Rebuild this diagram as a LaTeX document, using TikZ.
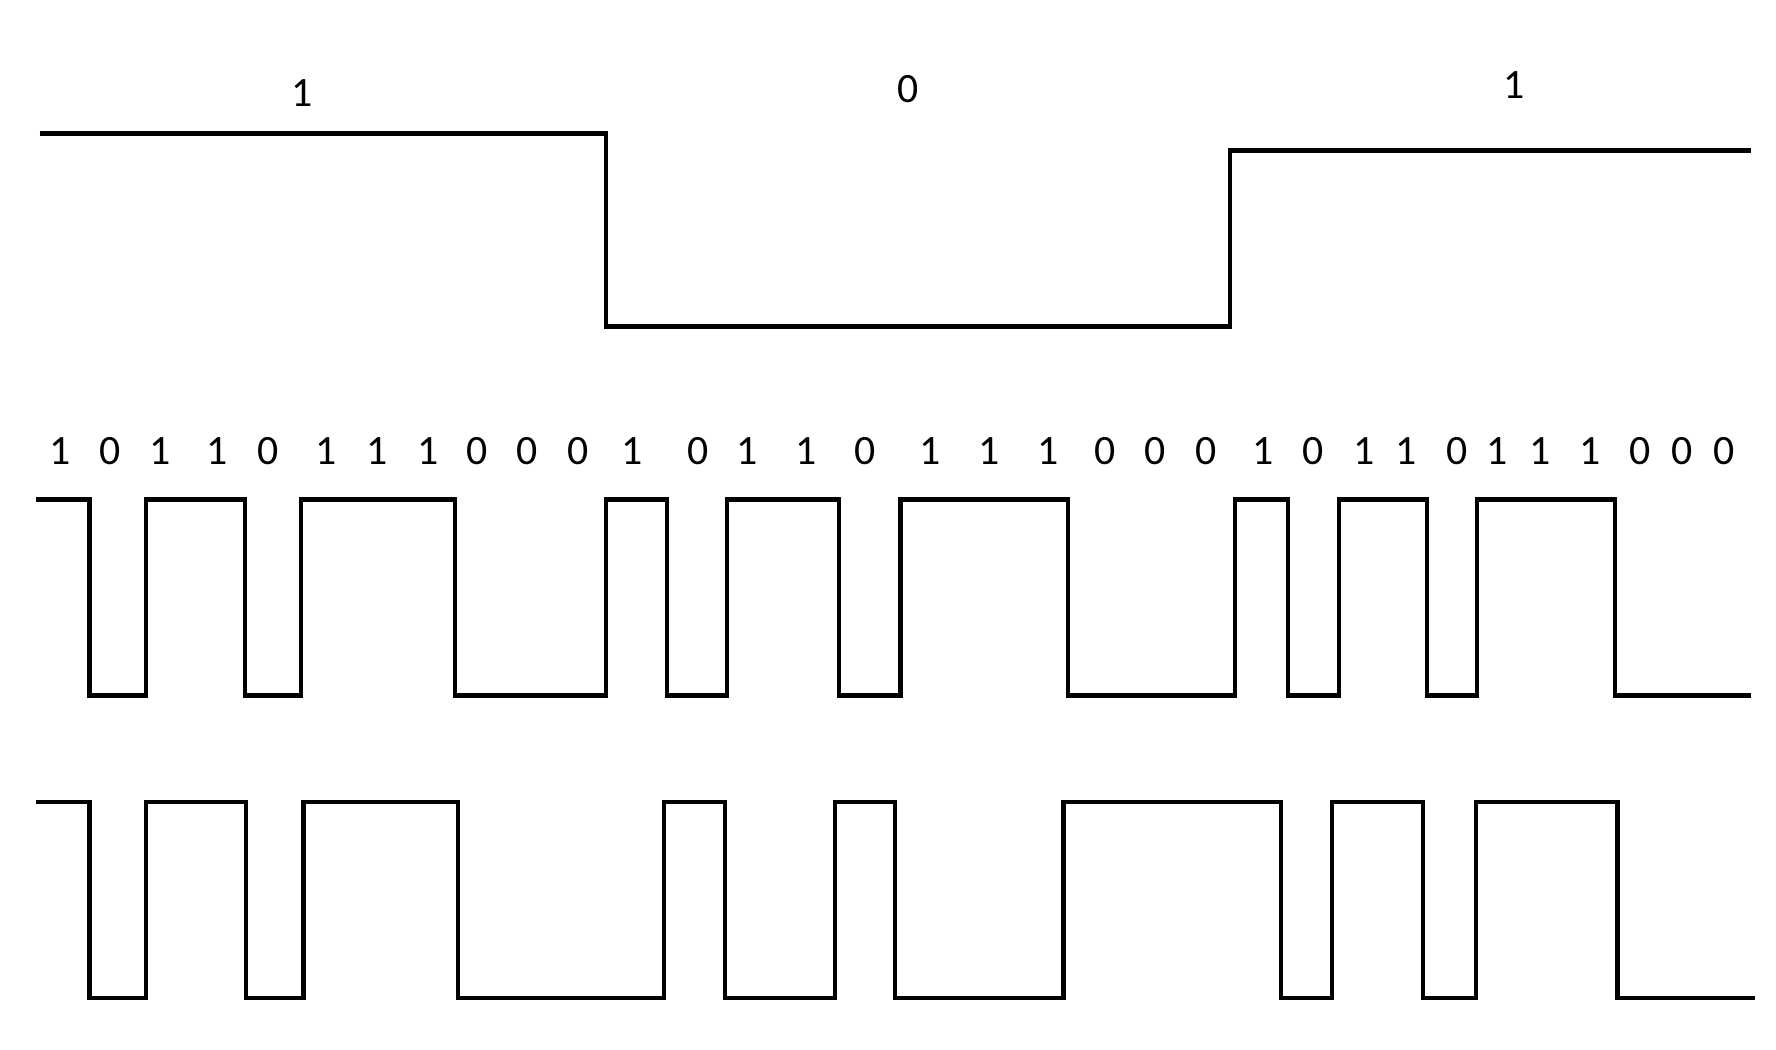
\documentclass[tikz,border=0pt]{standalone}
\usepackage{fontspec}
\setmainfont{Carlito}
\usepackage{tikz}

\begin{document}
\begin{tikzpicture}
[x=0.02cm,y=0.02cm,wave/.style={line width=2.1pt,line join=miter},bit/.style={font=\fontsize{21}{25}\selectfont,inner sep=0pt},]

\useasboundingbox (0,0) rectangle (1568,927);

% slow signal
\coordinate (A) at (35,809);
\coordinate (B) at (535,809);
\coordinate (C) at (535,639);
\coordinate (D) at (1086,639);
\coordinate (E) at (1086,794);
\coordinate (F) at (1546,794);
\draw[wave,line width=2.4pt] (A)--(B)--(C)--(D)--(E)--(F);

\node (t1) at (267,845)[bit]{1};
\node (t2) at (802,848)[bit]{0};
\node (t3) at (1337,852)[bit]{1};

% bit labels
\foreach \x/\b [count=\i] in {53/1,97/0,141/1,192/1,237/0,288/1,333/1,378/1,421/0,465/0,510/0,
  558/1,616/0,660/1,712/1,764/0,821/1,873/1,925/1,976/0,1020/0,1065/0,
  1115/1,1159/0,1204/1,1241/1,1286/0,1322/1,1360/1,1404/1,1448/0,1485/0,1522/0}
  \node (b\i) at (\x,529)[bit]{\b};

% fast signal
\def\hi{486}
\def\lo{313}
\draw[wave] (32,\hi) -| (79,\lo) -| (129,\hi) -| (216,\lo) -| (266,\hi) -| (402,\lo)
  -| (535,\hi) -| (589,\lo) -| (642,\hi) -| (741,\lo) -| (795,\hi) -| (943,\lo)
  -| (1090,\hi) -| (1137,\lo) -| (1182,\hi) -| (1260,\lo) -| (1304,\hi) -| (1426,\lo)
  -- (1546,\lo);

% product signal
\def\hi{219}
\def\lo{46}
\draw[wave] (32,\hi) -| (79,\lo) -| (129,\hi) -| (217,\lo) -| (268,\hi) -| (404,\lo)
  -| (586,\hi) -| (640,\lo) -| (737,\hi) -| (790,\lo) -| (939,\hi) -| (1131,\lo)
  -| (1176,\hi) -| (1256,\lo) -| (1303,\hi) -| (1428,\lo)
  -- (1549,\lo);

\end{tikzpicture}
\end{document}
